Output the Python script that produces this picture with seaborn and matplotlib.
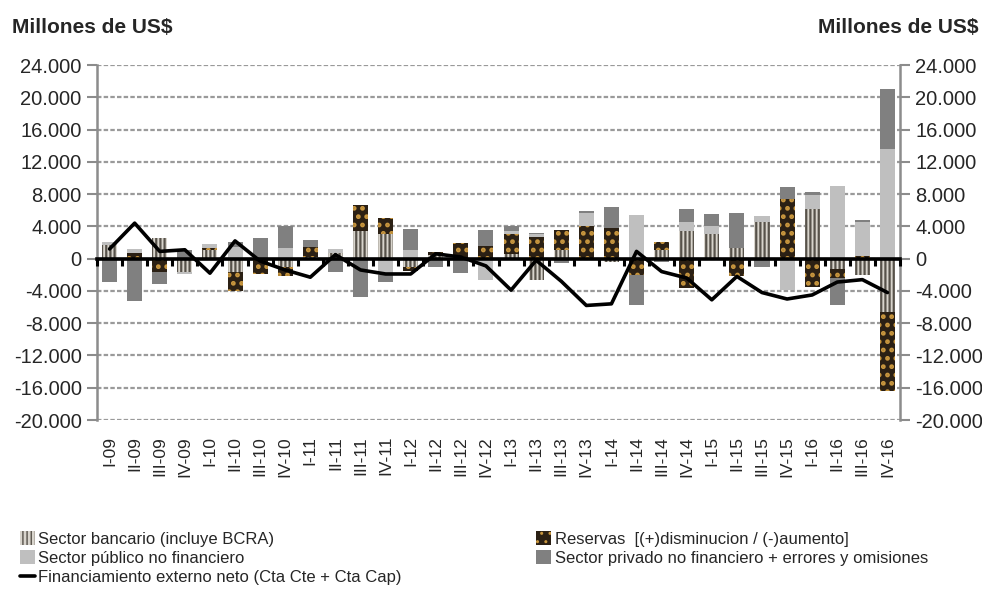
import numpy as np
import matplotlib
matplotlib.use("Agg")
import matplotlib.pyplot as plt
from matplotlib.patches import Patch
from matplotlib.lines import Line2D
from matplotlib.ticker import FuncFormatter
import seaborn as sns

# datos (millones de US$)
trimestres = ["I-09", "II-09", "III-09", "IV-09", "I-10", "II-10", "III-10", "IV-10",
              "I-11", "II-11", "III-11", "IV-11", "I-12", "II-12", "III-12", "IV-12",
              "I-13", "II-13", "III-13", "IV-13", "I-14", "II-14", "III-14", "IV-14",
              "I-15", "II-15", "III-15", "IV-15", "I-16", "II-16", "III-16", "IV-16"]

bancario = [1650, 0, 2500, -1700, 1100, -1700, 0, -1000,
            200, 700, 3400, 3000, -1000, 400, 0, 0,
            600, -2600, 1100, 0, -450, 0, 1100, 3400,
            3100, 1300, 4500, 0, 6200, -1300, -2000, -6600]
reservas = [0, 700, -1700, 0, 200, -2250, -1900, -1200,
            1200, 0, 3200, 2100, -550, 400, 2000, 1600,
            2500, 2700, 2500, 4000, 3750, -2000, 1000, -3600,
            0, -2200, 100, 7450, -3500, -1150, 300, -9800]
publico = [400, 500, 0, -250, 550, 1500, 0, 1300,
           0, 500, 0, -2000, 1100, 0, 0, -2600,
           300, 300, 0, 1600, 0, 5400, 0, 1100,
           1000, 0, 700, -3900, 1700, 9000, 4300, 13600]
privado = [-2950, -5300, -1400, 1100, 0, 600, 2600, 2700,
           950, -1700, -4800, -850, 2600, -1000, -1800, 2000,
           700, 200, -600, 250, 2700, -3800, -400, 1700,
           1400, 4300, -1000, 1400, 300, -3250, 200, 7400]
financiamiento = [1200, 4400, 900, 1100, -1800, 2200, -300, -1400,
                  -2300, 500, -1400, -1900, -1900, 600, 200, -900,
                  -3900, -200, -2800, -5800, -5600, 900, -1600, -2400,
                  -5100, -2200, -4200, -5000, -4500, -2900, -2600, -4200]

nombres = ["Sector bancario (incluye BCRA)",
           "Reservas  [(+)disminucion / (-)aumento]",
           "Sector público no financiero",
           "Sector privado no financiero + errores y omisiones"]
nombre_linea = "Financiamiento externo neto (Cta Cte + Cta Cap)"

estilos = [
    dict(color="#d8d4cc", edgecolor="#57524a", hatch="||||", hlw=1.6),
    dict(color="#2b2014", edgecolor="#c8963e", hatch="..", hlw=2.2),
    dict(color="#bfbfbf", edgecolor="#bfbfbf", hatch=None, hlw=1.0),
    dict(color="#808080", edgecolor="#808080", hatch=None, hlw=1.0),
]

sns.set_style("white")
plt.rcParams["font.family"] = ["Liberation Sans", "DejaVu Sans"]

fig = plt.figure(figsize=(9.82, 5.90), dpi=100)
ax = fig.add_axes([0.0988, 0.2881, 0.8177, 0.6017])

series = np.array([bancario, reservas, publico, privado], dtype=float)
acum_pos = np.cumsum(np.clip(series, 0, None), axis=0)
acum_neg = np.cumsum(np.clip(series, None, 0), axis=0)

# barras apiladas: se dibujan los acumulados de arriba hacia abajo
for acum in (acum_pos, acum_neg):
    for k in reversed(range(4)):
        st = estilos[k]
        with plt.rc_context({"hatch.linewidth": st["hlw"]}):
            sns.barplot(x=trimestres, y=acum[k], ax=ax, color=st["color"], saturation=1,
                        edgecolor=st["edgecolor"], hatch=st["hatch"], linewidth=0,
                        width=0.6, errorbar=None, zorder=2)

sns.lineplot(x=np.arange(len(trimestres)), y=financiamiento, ax=ax,
             color="black", linewidth=2.6, zorder=4)

ax.set_xlim(-0.5, len(trimestres) - 0.5)
ax.set_ylim(-20000, 24000)
ax.set_yticks(np.arange(-20000, 24001, 4000))
ax.yaxis.set_major_formatter(FuncFormatter(lambda v, p: f"{int(v):,}".replace(",", ".")))
ax.grid(axis="y", color="#9a9a9a", linestyle=(0, (2, 1)), linewidth=1.6, zorder=0)
ax.grid(axis="x", visible=False)
ax.set_axisbelow(True)

for s in ("top", "bottom"):
    ax.spines[s].set_visible(False)
for s in ("left", "right"):
    ax.spines[s].set_color("#8c8c8c")
    ax.spines[s].set_linewidth(1.8)

ax.tick_params(axis="y", left=True, right=True, labelleft=True, labelright=True,
               direction="out", length=7, width=1.5, color="#8c8c8c",
               labelsize=14.5, pad=4)
ax.tick_params(axis="x", bottom=False, labelsize=12.5, labelrotation=90, pad=8)
ax.set_xlabel("")
ax.set_ylabel("")

# eje horizontal en cero con marcas entre categorías
eje0 = ax.secondary_xaxis(20000 / 44000)
eje0.set_xticks(np.arange(-0.5, len(trimestres), 1))
eje0.tick_params(direction="out", length=5, width=2.2, color="black", labelbottom=False)
eje0.spines["bottom"].set_color("black")
eje0.spines["bottom"].set_linewidth(2.6)
eje0.set_zorder(5)

fig.text(0.012, 0.953, "Millones de US$", fontsize=15, fontweight="bold", va="center", ha="left")
fig.text(0.996, 0.953, "Millones de US$", fontsize=15, fontweight="bold", va="center", ha="right")

h = []
for e in estilos:
    with plt.rc_context({"hatch.linewidth": e["hlw"]}):
        h.append(Patch(facecolor=e["color"], edgecolor=e["edgecolor"], hatch=e["hatch"], linewidth=0))
linea = Line2D([0], [0], color="black", linewidth=2.6)
fig.legend([h[0], h[2], linea, h[1], h[3]],
           [nombres[0], nombres[2], nombre_linea, nombres[1], nombres[3]],
           ncol=2, loc="upper left", bbox_to_anchor=(0.02, 0.1), frameon=False,
           fontsize=12, handlelength=0.9, handleheight=0.9, handletextpad=0.2,
           labelspacing=0.22, columnspacing=8.1, borderaxespad=0, borderpad=0)

fig.savefig("out.png", dpi=100)
